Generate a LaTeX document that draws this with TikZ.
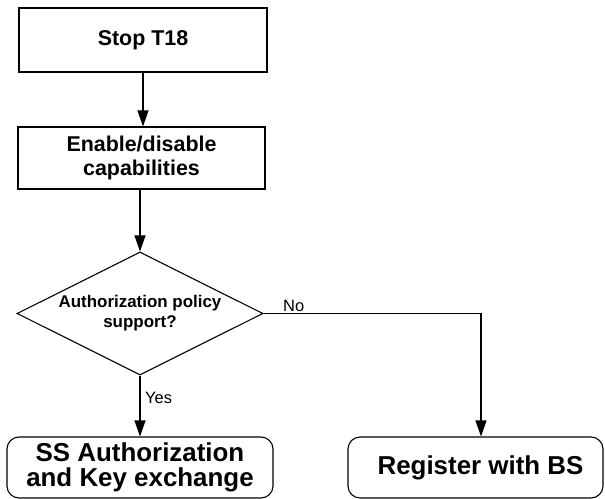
\documentclass[tikz,border=0pt]{standalone}
\usepackage{fontspec}
\setmainfont{Liberation Sans}
\usetikzlibrary{shapes.geometric,arrows.meta}
\begin{document}
\begin{tikzpicture}[x=1bp,y=-1bp,
  box/.style={draw,line width=1.1bp,inner sep=0pt,align=center,font=\fontsize{21.5}{25}\selectfont\bfseries},
  endbox/.style={draw,line width=1.1bp,rounded corners=12bp,inner sep=0pt,align=center,font=\fontsize{26}{25}\selectfont\bfseries},
  decbox/.style={draw,diamond,shape aspect=2,line width=1.1bp,inner sep=0pt,align=center,font=\fontsize{17}{20}\selectfont\bfseries},
  flow/.style={line width=1.1bp,-{Triangle[length=16bp,width=11bp]}},
  lbl/.style={inner sep=0pt,font=\fontsize{16.5}{18}\selectfont}
]
\useasboundingbox (0,0) rectangle (605,499);
\node[box,minimum width=248bp,minimum height=64bp] (stop) at (143,40) {Stop T18};
\node[box,minimum width=247bp,minimum height=62bp] (enable) at (141.5,158) {Enable/disable\\capabilities};
\node[decbox,minimum width=246bp,minimum height=123bp] (dec) at (140,313.5) {Authorization policy\\support?};
\node[endbox,minimum width=266bp,minimum height=61bp] (ss) at (140,467.5) {SS Authorization\\and Key exchange};
\node[endbox,minimum width=255bp,minimum height=61bp] (reg) at (475.5,467.5) {\hspace*{10bp}Register with BS};
\draw[flow] (stop.south) -- (stop.south |- enable.north);
\draw[flow] (dec.north |- enable.south) -- (dec.north);
\draw[flow] (dec.south) -- (dec.south |- ss.north);
\draw[flow] (dec.east) -| ([xshift=5.5bp]reg.north);
\node[lbl,anchor=base west] (no) at (283,311) {No};
\node[lbl,anchor=west] (yes) at (145,398) {Yes};
\end{tikzpicture}
\end{document}
